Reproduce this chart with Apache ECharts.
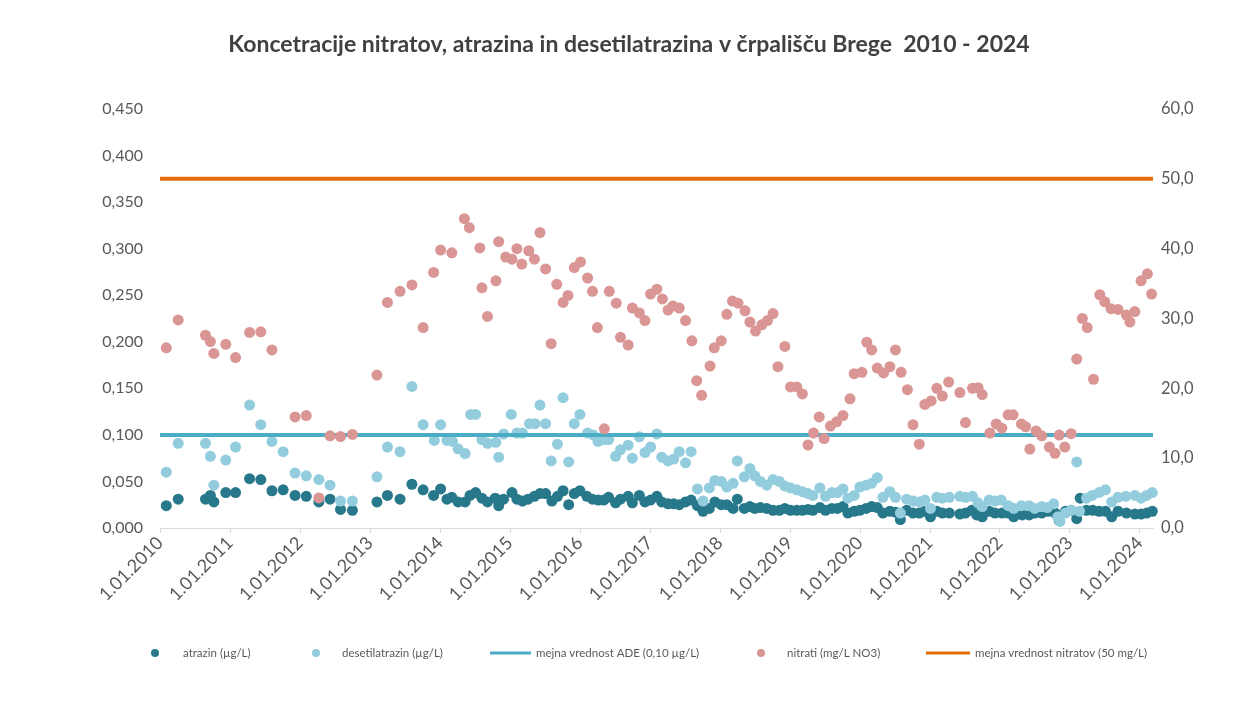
<!DOCTYPE html>
<html>
<head>
<meta charset="utf-8">
<script src="https://cdn.jsdelivr.net/npm/echarts@6/dist/echarts.min.js"></script>
<style>
  html, body { margin: 0; padding: 0; background: #ffffff; }
  #chart { width: 1258px; height: 710px; }
</style>
</head>
<body>
<div id="chart"></div>
<script>
// ---- Data (x = decimal year) ----
const titleText = 'Koncetracije nitratov, atrazina in desetilatrazina v črpališču Brege  2010 - 2024';
const yearTicks = [2010, 2011, 2012, 2013, 2014, 2015, 2016, 2017, 2018, 2019, 2020, 2021, 2022, 2023, 2024];
const xMin = 2010;
const xMax = 2024.19;
const adeLimit = 0.10;      // µg/L
const nitrateLimit = 50;    // mg/L

const atrazin = [
  [2010.09,0.024],[2010.26,0.031],[2010.65,0.031],[2010.72,0.035],[2010.77,0.028],[2010.94,0.038],
  [2011.08,0.038],[2011.28,0.053],[2011.44,0.052],[2011.60,0.040],[2011.76,0.041],[2011.93,0.035],
  [2012.09,0.034],[2012.27,0.028],[2012.43,0.031],[2012.58,0.020],[2012.75,0.019],
  [2013.10,0.028],[2013.25,0.035],[2013.43,0.031],[2013.60,0.047],[2013.76,0.041],[2013.91,0.035],
  [2014.01,0.042],[2014.10,0.031],[2014.17,0.033],[2014.26,0.028],[2014.36,0.028],[2014.43,0.035],
  [2014.51,0.038],[2014.60,0.032],[2014.68,0.028],[2014.79,0.032],[2014.84,0.024],[2014.91,0.031],
  [2015.03,0.038],[2015.10,0.031],[2015.18,0.029],[2015.26,0.031],[2015.35,0.034],[2015.43,0.037],
  [2015.51,0.037],[2015.60,0.029],[2015.68,0.034],[2015.76,0.040],[2015.84,0.025],[2015.92,0.037],
  [2016.00,0.040],[2016.10,0.034],[2016.18,0.031],[2016.26,0.030],[2016.34,0.030],[2016.41,0.033],
  [2016.51,0.027],[2016.58,0.031],[2016.69,0.034],[2016.75,0.027],[2016.85,0.035],[2016.93,0.028],
  [2017.01,0.030],[2017.10,0.034],[2017.17,0.028],[2017.26,0.026],[2017.34,0.026],[2017.42,0.025],
  [2017.51,0.028],[2017.59,0.030],[2017.68,0.024],[2017.76,0.018],[2017.85,0.021],[2017.93,0.028],
  [2018.02,0.025],[2018.10,0.025],[2018.19,0.021],[2018.25,0.031],[2018.35,0.021],[2018.43,0.023],
  [2018.50,0.021],[2018.58,0.022],[2018.67,0.021],[2018.76,0.019],[2018.85,0.019],[2018.93,0.021],
  [2019.01,0.019],[2019.10,0.019],[2019.18,0.019],[2019.26,0.020],[2019.33,0.019],[2019.43,0.022],
  [2019.51,0.019],[2019.60,0.021],[2019.68,0.021],[2019.76,0.023],[2019.83,0.016],[2019.92,0.018],
  [2020.00,0.019],[2020.09,0.021],[2020.17,0.023],[2020.25,0.022],[2020.33,0.016],[2020.43,0.018],
  [2020.51,0.017],[2020.58,0.009],[2020.67,0.019],[2020.76,0.016],[2020.85,0.016],[2020.93,0.018],
  [2021.01,0.012],[2021.10,0.018],[2021.18,0.016],[2021.28,0.016],[2021.43,0.015],[2021.51,0.016],
  [2021.60,0.019],[2021.67,0.014],[2021.75,0.012],[2021.85,0.018],[2021.93,0.016],
  [2022.03,0.016],[2022.12,0.016],[2022.20,0.012],[2022.32,0.014],[2022.42,0.014],[2022.50,0.016],
  [2022.60,0.016],[2022.69,0.018],[2022.79,0.016],[2022.85,0.008],[2022.94,0.018],
  [2023.02,0.019],[2023.10,0.010],[2023.15,0.032],[2023.24,0.019],[2023.33,0.019],[2023.42,0.018],
  [2023.51,0.018],[2023.60,0.012],[2023.69,0.018],[2023.81,0.016],[2023.93,0.015],
  [2024.02,0.015],[2024.10,0.016],[2024.18,0.018]
];

const desetilatrazin = [
  [2010.09,0.060],[2010.26,0.091],[2010.65,0.091],[2010.72,0.077],[2010.77,0.046],[2010.94,0.073],
  [2011.08,0.087],[2011.28,0.132],[2011.44,0.111],[2011.60,0.093],[2011.76,0.082],[2011.93,0.059],
  [2012.09,0.056],[2012.27,0.052],[2012.43,0.046],[2012.58,0.029],[2012.75,0.029],
  [2013.10,0.055],[2013.25,0.087],[2013.43,0.082],[2013.60,0.152],[2013.76,0.111],[2013.92,0.094],
  [2014.01,0.111],[2014.10,0.094],[2014.18,0.093],[2014.26,0.085],[2014.36,0.080],[2014.44,0.122],
  [2014.51,0.122],[2014.60,0.095],[2014.68,0.091],[2014.80,0.092],[2014.84,0.076],[2014.91,0.101],
  [2015.02,0.122],[2015.10,0.102],[2015.18,0.102],[2015.28,0.112],[2015.36,0.112],[2015.43,0.132],
  [2015.51,0.112],[2015.59,0.072],[2015.68,0.090],[2015.76,0.140],[2015.84,0.071],[2015.92,0.112],
  [2016.00,0.122],[2016.11,0.102],[2016.19,0.100],[2016.26,0.093],[2016.34,0.095],[2016.41,0.095],
  [2016.51,0.077],[2016.58,0.084],[2016.69,0.089],[2016.75,0.075],[2016.85,0.098],[2016.93,0.081],
  [2017.01,0.087],[2017.10,0.101],[2017.17,0.076],[2017.26,0.072],[2017.34,0.074],[2017.42,0.082],
  [2017.51,0.070],[2017.59,0.082],[2017.68,0.042],[2017.76,0.029],[2017.85,0.043],[2017.93,0.051],
  [2018.02,0.050],[2018.10,0.044],[2018.19,0.048],[2018.25,0.072],[2018.35,0.055],[2018.43,0.064],
  [2018.50,0.056],[2018.58,0.050],[2018.67,0.046],[2018.76,0.052],[2018.85,0.050],[2018.93,0.045],
  [2019.01,0.043],[2019.10,0.041],[2019.18,0.039],[2019.26,0.037],[2019.33,0.035],[2019.43,0.043],
  [2019.51,0.034],[2019.60,0.038],[2019.68,0.038],[2019.76,0.042],[2019.83,0.032],[2019.92,0.035],
  [2020.00,0.044],[2020.09,0.046],[2020.17,0.048],[2020.25,0.054],[2020.33,0.033],[2020.43,0.039],
  [2020.51,0.033],[2020.58,0.016],[2020.67,0.031],[2020.76,0.029],[2020.85,0.028],[2020.93,0.030],
  [2021.01,0.021],[2021.10,0.033],[2021.18,0.032],[2021.28,0.033],[2021.43,0.034],[2021.51,0.033],
  [2021.61,0.034],[2021.69,0.027],[2021.75,0.023],[2021.85,0.030],[2021.93,0.029],
  [2022.02,0.030],[2022.12,0.024],[2022.20,0.021],[2022.31,0.024],[2022.42,0.024],[2022.50,0.021],
  [2022.60,0.023],[2022.68,0.022],[2022.77,0.026],[2022.83,0.012],[2022.86,0.007],[2022.94,0.016],
  [2023.02,0.019],[2023.10,0.071],[2023.14,0.018],[2023.24,0.032],[2023.32,0.035],[2023.42,0.038],
  [2023.51,0.041],[2023.60,0.028],[2023.69,0.033],[2023.80,0.034],[2023.93,0.035],
  [2024.02,0.032],[2024.10,0.035],[2024.18,0.038]
];

const nitrati = [
  [2010.09,25.8],[2010.26,29.8],[2010.65,27.6],[2010.72,26.7],[2010.77,25.0],[2010.94,26.3],
  [2011.08,24.4],[2011.28,28.0],[2011.44,28.1],[2011.60,25.5],[2011.93,15.9],
  [2012.09,16.1],[2012.27,4.3],[2012.43,13.2],[2012.58,13.1],[2012.75,13.4],
  [2013.10,21.9],[2013.25,32.3],[2013.43,33.9],[2013.60,34.8],[2013.76,28.7],[2013.91,36.6],
  [2014.01,39.8],[2014.17,39.4],[2014.35,44.3],[2014.42,43.0],[2014.57,40.1],[2014.60,34.4],
  [2014.68,30.3],[2014.80,35.4],[2014.84,41.0],[2014.94,38.8],
  [2015.03,38.5],[2015.10,40.0],[2015.17,37.8],[2015.27,39.7],[2015.35,38.5],[2015.43,42.3],
  [2015.51,37.1],[2015.59,26.4],[2015.67,34.9],[2015.76,32.3],[2015.83,33.3],[2015.92,37.3],
  [2016.01,38.1],[2016.11,35.8],[2016.18,33.9],[2016.25,28.7],[2016.35,14.2],[2016.42,33.9],
  [2016.52,32.2],[2016.58,27.3],[2016.69,26.2],[2016.75,31.5],[2016.85,30.8],[2016.93,29.7],
  [2017.01,33.5],[2017.10,34.2],[2017.18,32.8],[2017.26,31.2],[2017.33,31.8],[2017.42,31.5],
  [2017.51,29.7],[2017.60,26.8],[2017.67,21.1],[2017.74,19.0],[2017.86,23.2],[2017.92,25.8],
  [2018.02,26.8],[2018.10,30.6],[2018.18,32.5],[2018.26,32.2],[2018.36,31.1],[2018.43,29.5],
  [2018.51,28.2],[2018.60,29.1],[2018.68,29.7],[2018.76,30.7],[2018.83,23.1],[2018.93,26.0],
  [2019.01,20.2],[2019.10,20.2],[2019.18,19.2],[2019.26,11.9],[2019.34,13.6],[2019.42,15.9],
  [2019.49,12.8],[2019.58,14.6],[2019.67,15.2],[2019.76,16.1],[2019.86,18.5],[2019.92,22.1],
  [2020.03,22.3],[2020.10,26.6],[2020.17,25.5],[2020.25,22.9],[2020.34,22.2],[2020.43,23.1],
  [2020.51,25.5],[2020.59,22.3],[2020.68,19.8],[2020.76,14.8],[2020.85,12.0],[2020.93,17.7],
  [2021.02,18.2],[2021.10,20.0],[2021.18,18.9],[2021.27,20.9],[2021.43,19.4],[2021.51,15.1],
  [2021.61,20.0],[2021.69,20.1],[2021.75,19.1],[2021.86,13.6],[2021.95,14.9],
  [2022.03,14.3],[2022.12,16.2],[2022.19,16.2],[2022.31,14.9],[2022.37,14.5],[2022.43,11.3],
  [2022.52,13.9],[2022.60,13.2],[2022.71,11.6],[2022.79,10.7],[2022.85,13.3],[2022.93,11.6],
  [2023.02,13.5],[2023.10,24.2],[2023.18,30.0],[2023.25,28.7],[2023.34,21.3],[2023.43,33.4],
  [2023.50,32.4],[2023.59,31.4],[2023.69,31.3],[2023.81,30.5],[2023.86,29.5],[2023.93,31.0],
  [2024.02,35.4],[2024.11,36.4],[2024.17,33.5]
];

const leftTicks = { min: 0, max: 0.45, interval: 0.05 };
const rightTicks = { min: 0, max: 60, interval: 10 };

// ---- Chart ----
const FONT = 'Lato, "Open Sans", sans-serif';
const GREY = '#595959';
const chart = echarts.init(document.getElementById('chart'), null, { renderer: 'canvas' });

function legendAt(name, left, icon, w, h, padLeft) {
  return {
    data: [{ name: name, icon: icon }],
    left: left, top: 642, itemWidth: w, itemHeight: h,
    selectedMode: false,
    textStyle: { fontFamily: FONT, fontSize: 11.5, color: GREY, padding: [0, 0, 0, padLeft] }
  };
}

chart.setOption({
  animation: false,
  backgroundColor: '#ffffff',
  title: {
    text: titleText, left: 'center', top: 28,
    textStyle: { fontFamily: FONT, fontSize: 23, fontWeight: 'bold', color: '#404040' }
  },
  grid: { left: 160, right: 105, top: 109, bottom: 182, containLabel: false },
  legend: [
    legendAt('atrazin (µg/L)', 146, 'circle', 8, 8, 19),
    legendAt('desetilatrazin (µg/L)', 307, 'circle', 8, 8, 17),
    legendAt('mejna vrednost ADE (0,10 µg/L)', 485, 'rect', 41, 3, 0),
    legendAt('nitrati (mg/L NO3)', 752, 'circle', 8, 8, 17),
    legendAt('mejna vrednost nitratov (50 mg/L)', 921, 'rect', 44, 3, 0)
  ],
  xAxis: {
    type: 'value', min: xMin, max: xMax, interval: 1,
    axisLine: { show: true, lineStyle: { color: '#d9d9d9', width: 1 } },
    axisTick: { show: true, length: 5, lineStyle: { color: '#d9d9d9' }, customValues: yearTicks },
    axisLabel: {
      customValues: yearTicks,
      rotate: 45, margin: 12, fontFamily: FONT, fontSize: 18, color: GREY,
      formatter: v => '1.01.' + Math.round(v)
    },
    splitLine: { show: false }
  },
  yAxis: [
    {
      type: 'value', min: leftTicks.min, max: leftTicks.max, interval: leftTicks.interval,
      axisLine: { show: false }, axisTick: { show: false }, splitLine: { show: false },
      axisLabel: { margin: 17, fontFamily: FONT, fontSize: 16, color: GREY,
        formatter: v => v.toFixed(3).replace('.', ',') }
    },
    {
      type: 'value', min: rightTicks.min, max: rightTicks.max, interval: rightTicks.interval,
      position: 'right',
      axisLine: { show: false }, axisTick: { show: false }, splitLine: { show: false },
      axisLabel: { margin: 8, fontFamily: FONT, fontSize: 16.5, color: GREY,
        formatter: v => v.toFixed(1).replace('.', ',') }
    }
  ],
  series: [
    {
      name: 'atrazin (µg/L)', type: 'scatter', yAxisIndex: 0, data: atrazin,
      symbolSize: 11, itemStyle: { color: '#27788a', opacity: 1 }, z: 2
    },
    {
      name: 'desetilatrazin (µg/L)', type: 'scatter', yAxisIndex: 0, data: desetilatrazin,
      symbolSize: 11, itemStyle: { color: '#93cddd', opacity: 1 }, z: 3
    },
    {
      name: 'mejna vrednost ADE (0,10 µg/L)', type: 'line', yAxisIndex: 0,
      data: [[xMin, adeLimit], [xMax, adeLimit]], showSymbol: false, symbol: 'none',
      lineStyle: { color: '#4bacc6', width: 4 }, itemStyle: { color: '#4bacc6' }, z: 4
    },
    {
      name: 'nitrati (mg/L NO3)', type: 'scatter', yAxisIndex: 1, data: nitrati,
      symbolSize: 11, itemStyle: { color: '#d99694', opacity: 1 }, z: 5
    },
    {
      name: 'mejna vrednost nitratov (50 mg/L)', type: 'line', yAxisIndex: 1,
      data: [[xMin, nitrateLimit], [xMax, nitrateLimit]], showSymbol: false, symbol: 'none',
      lineStyle: { color: '#e46c0a', width: 4 }, itemStyle: { color: '#e46c0a' }, z: 6
    }
  ]
});
</script>
</body>
</html>
